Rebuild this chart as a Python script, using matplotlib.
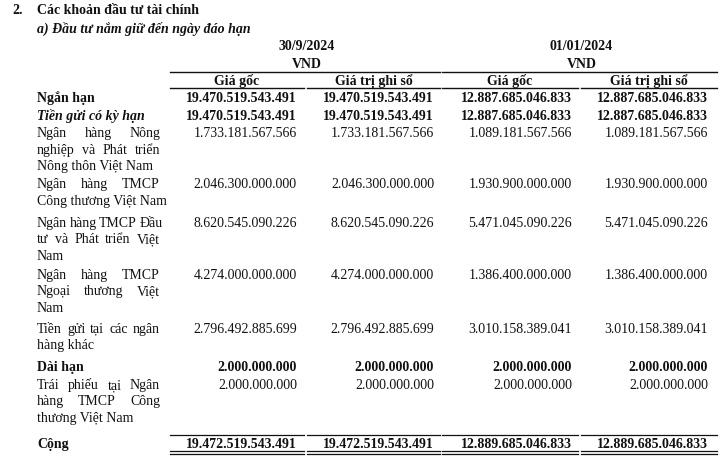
import matplotlib
matplotlib.use("Agg")
import matplotlib.pyplot as plt

# Du lieu bang
dates = ["30/9/2024", "01/01/2024"]
col_headers = ["Giá gốc", "Giá trị ghi sổ", "Giá gốc", "Giá trị ghi sổ"]

row_labels = [
    ["Ngắn hạn"],
    ["Tiền gửi có kỳ hạn"],
    ["Ngân hàng Nông", "nghiệp và Phát triển", "Nông thôn Việt Nam"],
    ["Ngân hàng TMCP", "Công thương Việt Nam"],
    ["Ngân hàng TMCP Đầu", "tư và Phát triển Việt", "Nam"],
    ["Ngân hàng TMCP", "Ngoại thương Việt", "Nam"],
    ["Tiền gửi tại các ngân", "hàng khác"],
    ["Dài hạn"],
    ["Trái phiếu tại Ngân", "hàng TMCP Công", "thương Việt Nam"],
    ["Cộng"],
]
row_styles = ["bold", "bolditalic", "normal", "normal", "normal", "normal",
              "normal", "bold", "normal", "bold"]

gia_goc_092024 = [19470519543491, 19470519543491, 1733181567566, 2046300000000,
                  8620545090226, 4274000000000, 2796492885699, 2000000000,
                  2000000000, 19472519543491]
ghi_so_092024 = [19470519543491, 19470519543491, 1733181567566, 2046300000000,
                 8620545090226, 4274000000000, 2796492885699, 2000000000,
                 2000000000, 19472519543491]
gia_goc_012024 = [12887685046833, 12887685046833, 1089181567566, 1930900000000,
                  5471045090226, 1386400000000, 3010158389041, 2000000000,
                  2000000000, 12889685046833]
ghi_so_012024 = [12887685046833, 12887685046833, 1089181567566, 1930900000000,
                 5471045090226, 1386400000000, 3010158389041, 2000000000,
                 2000000000, 12889685046833]
columns = [gia_goc_092024, ghi_so_092024, gia_goc_012024, ghi_so_012024]

# bo cuc (pixel, duong co so cua chu)
row_y = [102.3, 120, 137.3, 188.3, 226.7, 279, 332.7, 371.5, 389, 448.5]
line_h = 16.5
col_left = [170, 307, 442, 581]
col_right = [304, 440, 578, 717]
num_right = [297, 434, 572, 708]
lab_x0, lab_x1 = 37, 160
fs = 10
ink = "#111111"

plt.rcParams["font.family"] = ["Liberation Serif", "DejaVu Serif"]

fig = plt.figure(figsize=(7.2, 4.64), dpi=100)
ax = fig.add_axes([0, 0, 1, 1])
ax.set_xlim(0, 720)
ax.set_ylim(464, 0)
ax.axis("off")


def fmt(v):
    return f"{v:,}".replace(",", ".")


def style_kw(st):
    return dict(fontweight="bold" if "bold" in st else "normal",
                fontstyle="italic" if "italic" in st else "normal")


fig.canvas.draw()
renderer = fig.canvas.get_renderer()


def width_px(s, **kw):
    t = ax.text(0, 0, s, fontsize=fs, **kw)
    w = t.get_window_extent(renderer).width
    t.remove()
    return w


def put(x, y, s, **kw):
    ax.text(x, y, s, fontsize=fs, va="baseline", color=ink, **kw)


def justified(line, y, last, **kw):
    words = line.split(" ")
    if last or len(words) == 1:
        put(lab_x0, y, line, **kw)
        return
    ws = [width_px(w, **kw) for w in words]
    gap = (lab_x1 - lab_x0 - sum(ws)) / (len(words) - 1)
    gap = max(gap, 2.5)
    x = lab_x0
    for w, wd in zip(words, ws):
        put(x, y, w, **kw)
        x += wd + gap


# tieu de
put(12, 14, "2.", fontweight="bold")
put(37, 14, "Các khoản đầu tư tài chính", fontweight="bold")
put(37, 33, "a) Đầu tư nắm giữ đến ngày đáo hạn", fontweight="bold", fontstyle="italic")

# tieu de cot
for g, d in enumerate(dates):
    cx = (col_left[2 * g] + col_right[2 * g + 1]) / 2 + 2
    put(cx, 50.5, d, fontweight="bold", ha="center")
    put(cx, 67.5, "VND", fontweight="bold", ha="center")
    ax.plot([col_left[2 * g], col_right[2 * g + 1]], [72.5, 72.5], color=ink, lw=1.0)
for i, h in enumerate(col_headers):
    put((col_left[i] + col_right[i]) / 2, 84.5, h, fontweight="bold", ha="center")
    ax.plot([col_left[i], col_right[i]], [88.5, 88.5], color=ink, lw=1.0)

# cac dong
for r, lines in enumerate(row_labels):
    kw = style_kw(row_styles[r])
    y0 = row_y[r]
    if row_styles[r] == "normal":
        for k, ln in enumerate(lines):
            justified(ln, y0 + k * line_h, k == len(lines) - 1, **kw)
    else:
        put(lab_x0, y0, lines[0], **kw)
    for c, vals in enumerate(columns):
        put(num_right[c], y0, fmt(vals[r]), ha="right", fontweight=kw["fontweight"])

# duong ke dong Cong
for c in range(4):
    ax.plot([col_left[c], col_right[c]], [435.5, 435.5], color=ink, lw=0.9)
    ax.plot([col_left[c], col_right[c]], [452, 452], color=ink, lw=0.9)
    ax.plot([col_left[c], col_right[c]], [454.5, 454.5], color=ink, lw=0.9)

fig.savefig("out.png", dpi=100, facecolor="white")
